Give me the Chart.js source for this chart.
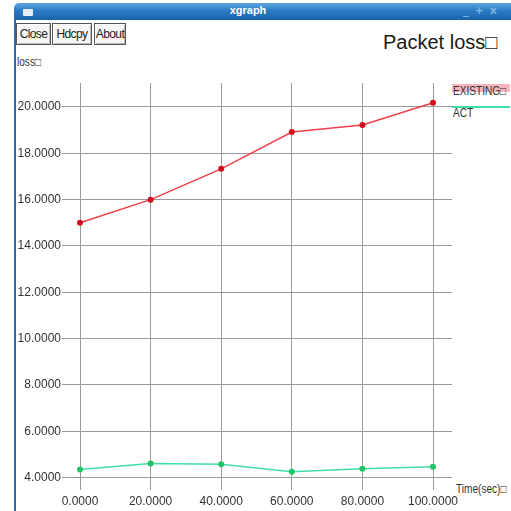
<!DOCTYPE html>
<html>
<head>
<meta charset="utf-8">
<script src="https://cdn.jsdelivr.net/npm/chart.js@4.4.1/dist/chart.umd.min.js"></script>
<style>
  html, body { margin:0; padding:0; background:#fff; }
  body { width:511px; height:511px; position:relative; overflow:hidden; font-family:'Liberation Sans',Arial,sans-serif; }
  .abs { position:absolute; }
  .narrow { transform:scaleX(0.84); transform-origin:0 0; white-space:nowrap; }
  #titlebar { left:14px; top:3px; width:510px; height:17px; border-top-left-radius:5px;
    background:linear-gradient(#5fa6de 0%, #2a7cc4 45%, #1a63ab 100%); }
  #lborder { left:14px; top:18px; width:2px; height:500px; background:#2b6aa8; }
  #icon { left:23px; top:9px; width:10px; height:7px; background:#e6eef8; border-radius:1px; }
  #wtitle { left:200px; top:4px; width:96px; text-align:center; color:#fff; font:bold 11px 'Liberation Sans','DejaVu Sans',sans-serif; }
  #wbtns { left:463px; top:4px; color:#7fb2e0; font:bold 11px 'DejaVu Sans',sans-serif; letter-spacing:6px; }
  .btn { top:23px; height:20px; border:1px solid #555; background:#f6f6f6; box-shadow:inset 1px 1px 0 #fff, inset -1px -1px 0 #bbb;
    font-size:12px; line-height:20px; text-align:center; color:#222; letter-spacing:-0.6px; overflow:hidden; }
  #ptitle { left:383px; top:31px; font:20px 'Liberation Sans','Arial',sans-serif; color:#1a1a1a; white-space:nowrap; }
  #ylab { left:17px; top:55px; font-size:12px; color:#333; }
  #xlab { left:456px; top:482px; font-size:12px; color:#333; }
  .leg { left:453px; font-size:12px; color:#333; }
  .legline { left:452px; width:58px; }
  canvas { position:absolute; left:0; top:0; }
</style>
</head>
<body>
<div id="titlebar" class="abs"></div>
<div id="lborder" class="abs"></div>
<div id="icon" class="abs"></div>
<div id="wtitle" class="abs">xgraph</div>
<div id="wbtns" class="abs">_+x</div>
<div class="abs btn" style="left:16px;width:33px;">Close</div>
<div class="abs btn" style="left:52px;width:38px;">Hdcpy</div>
<div class="abs btn" style="left:94px;width:30px;">About</div>
<div id="ptitle" class="abs">Packet loss□</div>
<div id="ylab" class="abs narrow">loss□</div>
<div id="xlab" class="abs narrow">Time(sec)□</div>
<div id="legend"></div>
<canvas id="c" width="511" height="511"></canvas>
<script>
// ---- data ----
const timeValues = [0, 20, 40, 60, 80, 100];
const existingLoss = [15.0, 16.0, 17.33, 18.92, 19.22, 20.18];
const actLoss = [4.35, 4.61, 4.58, 4.25, 4.38, 4.47];
const seriesNames = ["EXISTING□", "ACT"];
const xTicks = [0, 20, 40, 60, 80, 100];
const yTicks = [4, 6, 8, 10, 12, 14, 16, 18, 20];

const lineColors = ['#f0404c', '#40e0a4'];
const pointColors = ['#d0101c', '#20c468'];

// legend (xgraph style: coloured line above the name)
const legendTops = [84, 106];
const leg = document.getElementById('legend');
seriesNames.forEach((name, i) => {
  const ln = document.createElement('div');
  ln.className = 'abs legline';
  ln.style.top = legendTops[i] + 'px';
  if (i === 0) { ln.style.height = '8px'; ln.style.background = 'rgba(236,70,90,0.40)'; }
  else { ln.style.height = '2px'; ln.style.background = lineColors[i]; }
  leg.appendChild(ln);
  const t = document.createElement('div');
  t.className = 'abs leg narrow';
  t.style.top = (legendTops[i] + 0) + 'px';
  t.textContent = name;
  leg.appendChild(t);
});

const toPts = arr => timeValues.map((x, i) => ({ x: x, y: arr[i] }));
const tickFont = { family: "'Liberation Sans', Arial, sans-serif", size: 12 };

new Chart(document.getElementById('c'), {
  type: 'line',
  data: {
    datasets: [
      { label: seriesNames[0], data: toPts(existingLoss), borderColor: lineColors[0], borderWidth: 1.5,
        pointRadius: 3, pointBackgroundColor: pointColors[0], pointBorderWidth: 0, tension: 0 },
      { label: seriesNames[1], data: toPts(actLoss), borderColor: lineColors[1], borderWidth: 1.5,
        pointRadius: 3, pointBackgroundColor: pointColors[1], pointBorderWidth: 0, tension: 0 }
    ]
  },
  options: {
    responsive: false,
    devicePixelRatio: 1,
    animation: false,
    layout: { padding: { left: 12, top: 83, right: 59, bottom: 0 } },
    plugins: { legend: { display: false }, tooltip: { enabled: false }, title: { display: false } },
    scales: {
      x: {
        type: 'linear', min: -5.1, max: 105.38,
        afterFit: s => { s.height = 21; },
        afterBuildTicks: s => { s.ticks = xTicks.map(v => ({ value: v })); },
        ticks: { callback: v => Number(v).toFixed(4), padding: 4, maxRotation: 0, autoSkip: false, color: '#333', font: tickFont },
        grid: { color: '#9a9a9a', lineWidth: 1, drawTicks: false },
        border: { display: false }
      },
      y: {
        type: 'linear', min: 3.465, max: 21.036,
        afterFit: s => { s.width = 50; },
        afterBuildTicks: s => { s.ticks = yTicks.map(v => ({ value: v })); },
        ticks: { callback: v => Number(v).toFixed(4), padding: 1, color: '#333', font: tickFont },
        grid: { color: '#9a9a9a', lineWidth: 1, drawTicks: false },
        border: { display: false }
      }
    }
  }
});
</script>
</body>
</html>
